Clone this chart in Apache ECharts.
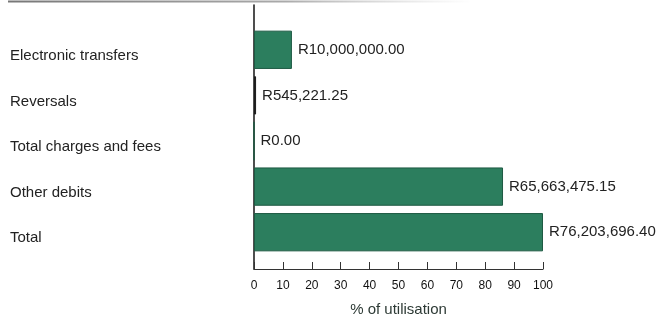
<!DOCTYPE html>
<html>
<head>
<meta charset="utf-8">
<script src="https://cdn.jsdelivr.net/npm/echarts@6/dist/echarts.min.js"></script>
<style>
  html, body { margin: 0; padding: 0; background: #fff; }
  #chart { width: 671px; height: 322px; }
</style>
</head>
<body>
<div id="chart"></div>
<script>
// Account categories, top to bottom
const categories = ['Electronic transfers', 'Reversals', 'Total charges and fees', 'Other debits', 'Total'];
// Rand amounts per category
const amounts = [10000000.00, 545221.25, 0.00, 65663475.15, 76203696.40];
// Percentage axis ticks
const pctTicks = [0, 10, 20, 30, 40, 50, 60, 70, 80, 90, 100];

// Utilisation = share of the total amount
const totalAmount = amounts[amounts.length - 1];
const utilisation = amounts.map(a => a / totalAmount * 100);

function formatRand(v) {
  const parts = v.toFixed(2).split('.');
  parts[0] = parts[0].replace(/\B(?=(\d{3})+(?!\d))/g, ',');
  return 'R' + parts.join('.');
}

const FONT = 'Arial, "Liberation Sans", sans-serif';
const GREEN = '#2c7e5e';

const chart = echarts.init(document.getElementById('chart'), null, { renderer: 'canvas' });

chart.setOption({
  animation: false,
  backgroundColor: '#fff',
  graphic: [{
    type: 'line',
    shape: { x1: 8, y1: 1.5, x2: 470, y2: 1.5 },
    style: {
      lineWidth: 2,
      stroke: new echarts.graphic.LinearGradient(0, 0, 1, 0, [
        { offset: 0, color: '#777' },
        { offset: 0.6, color: '#aaa' },
        { offset: 1, color: 'rgba(200,200,200,0)' }
      ])
    },
    silent: true
  }],
  grid: [
    // bars
    { left: 254, width: 289, top: 27, height: 228, containLabel: false },
    // axis frame
    { left: 254, width: 289, top: 5, height: 275, containLabel: false }
  ],
  xAxis: [
    { gridIndex: 0, type: 'value', min: 0, max: 100, show: false },
    {
      gridIndex: 1, type: 'value', min: pctTicks[0], max: pctTicks[pctTicks.length - 1], interval: 10,
      axisLine: { show: true, lineStyle: { color: '#333', width: 1.2 } },
      axisTick: { show: true, inside: true, length: 7, lineStyle: { color: '#333', width: 1 } },
      splitLine: { show: false },
      axisLabel: { color: '#111', fontFamily: FONT, fontSize: 12, margin: 11 },
      name: '% of utilisation',
      nameLocation: 'middle',
      nameGap: 33,
      nameTextStyle: { color: '#2d3a35', fontFamily: FONT, fontSize: 15 }
    }
  ],
  yAxis: [
    {
      gridIndex: 0, type: 'category', data: categories, inverse: true,
      axisLine: { show: false }, axisTick: { show: false },
      axisLabel: {
        color: '#222', fontFamily: FONT, fontSize: 15,
        align: 'left', verticalAlign: 'top', lineHeight: 12, margin: 244
      }
    },
    {
      gridIndex: 1, type: 'value', min: 0, max: 1,
      axisLine: { show: true, lineStyle: { color: '#222', width: 1.6 } },
      axisTick: { show: false }, axisLabel: { show: false }, splitLine: { show: false }
    }
  ],
  series: [{
    type: 'bar',
    xAxisIndex: 0,
    yAxisIndex: 0,
    barWidth: '84%',
    data: utilisation.map((v, i) => ({
      value: v,
      itemStyle: i === 1 ? { color: '#1b1b1b', borderColor: '#1b1b1b' } : undefined
    })),
    itemStyle: { color: GREEN, borderColor: '#1e5a43', borderWidth: 1 },
    label: {
      show: true,
      position: 'right',
      distance: 6,
      color: '#222',
      fontFamily: FONT,
      fontSize: 15,
      formatter: p => formatRand(amounts[p.dataIndex])
    }
  }]
});
</script>
</body>
</html>
